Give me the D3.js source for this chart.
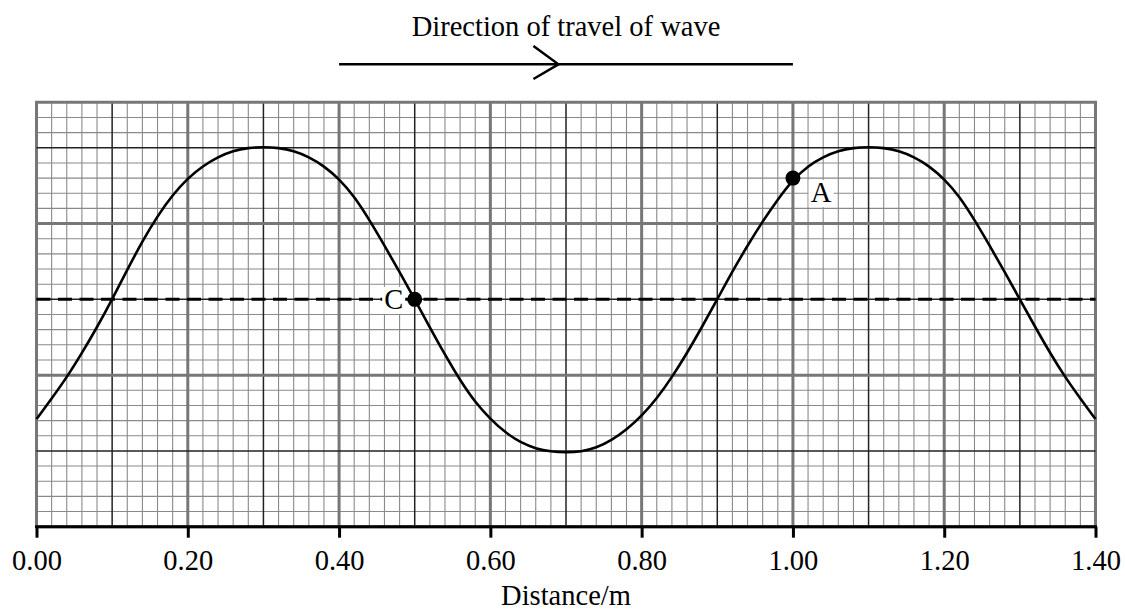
<!DOCTYPE html>
<html>
<head>
<meta charset="utf-8">
<script src="https://cdn.jsdelivr.net/npm/d3@7"></script>
<style>
  html, body { margin: 0; padding: 0; background: #fff; }
  svg { display: block; font-family: "Liberation Serif", "Times New Roman", serif; }
</style>
</head>
<body>
<svg id="chart" width="1125" height="612"></svg>
<script>
// ---- data ----
const distance = [0.00,0.02,0.04,0.06,0.08,0.10,0.12,0.14,0.16,0.18,0.20,0.22,0.24,0.26,0.28,0.30,0.32,0.34,0.36,0.38,
  0.40,0.42,0.44,0.46,0.48,0.50,0.52,0.54,0.56,0.58,0.60,0.62,0.64,0.66,0.68,0.70,0.72,0.74,0.76,0.78,
  0.80,0.82,0.84,0.86,0.88,0.90,0.92,0.94,0.96,0.98,1.00,1.02,1.04,1.06,1.08,1.10,1.12,1.14,1.16,1.18,
  1.20,1.22,1.24,1.26,1.28,1.30,1.32,1.34,1.36,1.38,1.40];
const displacement = [-0.158,-0.131,-0.103,-0.071,-0.037,0,0.039,0.077,0.110,0.138,0.160,0.176,0.188,0.196,0.200,0.201,0.200,0.196,0.188,0.176,
  0.159,0.136,0.105,0.071,0.036,0,-0.037,-0.073,-0.107,-0.136,-0.158,-0.176,-0.189,-0.197,-0.201,-0.202,-0.201,-0.196,-0.186,-0.172,
  -0.154,-0.131,-0.103,-0.071,-0.036,0,0.037,0.071,0.103,0.132,0.158,0.176,0.188,0.196,0.200,0.201,0.200,0.196,0.188,0.176,
  0.159,0.136,0.105,0.071,0.036,0,-0.036,-0.071,-0.103,-0.131,-0.158];
const xTicks = [0.00,0.20,0.40,0.60,0.80,1.00,1.20,1.40];
const pointLabels = ["C","A"];
const pointX = [0.50,1.00];
const pointY = [0.000,0.160];
const arrowFrom = 0.40, arrowTo = 1.00, arrowHead = 0.69;
const title = "Direction of travel of wave";
const xLabel = "Distance/m";

// ---- layout ----
const FS = 28.5;
const svg = d3.select("#chart");
const x = d3.scaleLinear().domain([0, 1.4]).range([36.5, 1095.5]);
const y = d3.scaleLinear().domain([-0.30, 0.26]).range([526.7, 102.3]);

// ---- grid ----
const grid = svg.append("g");
const nx = 70, ny0 = -15, ny1 = 13;
for (let i = 0; i <= nx; i++) {
  if (i % 5 === 0) continue;
  grid.append("line").attr("x1", x(i*0.02)).attr("x2", x(i*0.02))
    .attr("y1", y(0.26)).attr("y2", y(-0.30))
    .attr("stroke", "#8a8a8a").attr("stroke-width", 1.1);
}
for (let j = ny0; j <= ny1; j++) {
  if (j % 5 === 0) continue;
  grid.append("line").attr("y1", y(j*0.02)).attr("y2", y(j*0.02))
    .attr("x1", x(0)).attr("x2", x(1.4))
    .attr("stroke", "#8a8a8a").attr("stroke-width", 1.1);
}
for (let i = 0; i <= nx; i += 5) {
  const thick = (i % 10 === 0);
  grid.append("line").attr("x1", x(i*0.02)).attr("x2", x(i*0.02))
    .attr("y1", y(0.26)).attr("y2", y(-0.30))
    .attr("stroke", thick ? "#777" : "#222").attr("stroke-width", thick ? 3 : 1.5);
}
for (let j = ny0; j <= ny1; j += 5) {
  const thick = (Math.abs(j) % 10 === 5);
  grid.append("line").attr("y1", y(j*0.02)).attr("y2", y(j*0.02))
    .attr("x1", x(0)).attr("x2", x(1.4))
    .attr("stroke", thick ? "#777" : "#222").attr("stroke-width", thick ? 3 : 1.5);
}
grid.append("line").attr("x1", x(0) - 1.5).attr("x2", x(1.4) + 1.5)
  .attr("y1", y(0.26)).attr("y2", y(0.26)).attr("stroke", "#777").attr("stroke-width", 3);

// ---- dashed zero line ----
svg.append("line").attr("x1", x(0)).attr("x2", x(1.4))
  .attr("y1", y(0)).attr("y2", y(0))
  .attr("stroke", "#000").attr("stroke-width", 3).attr("stroke-dasharray", "14,7.5");

// ---- x axis ----
const axis = svg.append("g").attr("transform", `translate(0,${y(-0.30)})`)
  .call(d3.axisBottom(x).tickValues(xTicks).tickFormat(d3.format(".2f")).tickSize(11).tickPadding(12));
axis.select(".domain").attr("stroke", "#000").attr("stroke-width", 3)
  .attr("d", `M${x(0)-1.5},0H${x(1.4)+1.5}`);
axis.selectAll(".tick line").attr("stroke", "#000").attr("stroke-width", 3);
axis.selectAll(".tick text").attr("font-family", "Liberation Serif").attr("font-size", FS).attr("fill", "#000");

svg.append("text").attr("x", x(0.7)).attr("y", 605).attr("text-anchor", "middle")
  .attr("font-size", FS).text(xLabel);

// ---- wave ----
const pts = distance.map((d, i) => [d, displacement[i]]);
svg.append("path").datum(pts)
  .attr("d", d3.line().x(d => x(d[0])).y(d => y(d[1])).curve(d3.curveBasis))
  .attr("fill", "none").attr("stroke", "#000").attr("stroke-width", 2.6);

// ---- labelled points ----
pointLabels.forEach((lab, i) => {
  const px = x(pointX[i]), py = y(pointY[i]);
  const tx = lab === "C" ? px - 21 : px + 28;
  const ty = lab === "C" ? py + 9.5 : py + 24;
  const t = svg.append("text").attr("x", tx).attr("y", ty).attr("text-anchor", "middle")
    .attr("font-size", FS).text(lab);
  const bb = t.node().getBBox();
  svg.insert("rect", () => t.node()).attr("x", bb.x - 2).attr("y", bb.y + 3)
    .attr("width", bb.width + 4).attr("height", bb.height - 4).attr("fill", "#fff");
  svg.append("circle").attr("cx", px).attr("cy", py).attr("r", 7.5).attr("fill", "#000");
});

// ---- title and direction arrow ----
svg.append("text").attr("x", x(0.7)).attr("y", 36).attr("text-anchor", "middle")
  .attr("font-size", FS).text(title);
svg.append("line").attr("x1", x(arrowFrom)).attr("x2", x(arrowTo))
  .attr("y1", 64.3).attr("y2", 64.3).attr("stroke", "#000").attr("stroke-width", 2.5);
svg.append("path")
  .attr("d", `M${x(arrowHead)-25},46 L${x(arrowHead)},64.3 L${x(arrowHead)-25},79`)
  .attr("fill", "none").attr("stroke", "#000").attr("stroke-width", 2.5);
</script>
</body>
</html>
